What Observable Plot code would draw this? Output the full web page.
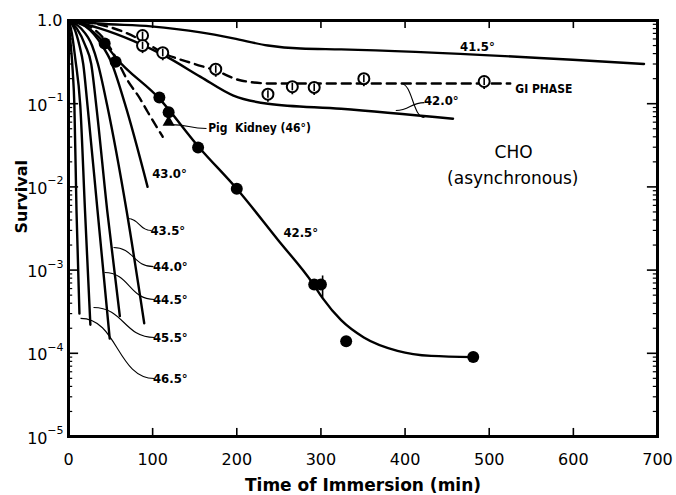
<!DOCTYPE html>
<html><head><meta charset="utf-8">
<script src="https://cdn.jsdelivr.net/npm/d3@7"></script>
<script src="https://cdn.jsdelivr.net/npm/@observablehq/plot@0.6"></script>
<style>body{margin:0;background:#fff} svg{display:block}</style>
</head><body><div id="chart"></div>
<script>
// ---- data (time in min, survival fraction) ----
const c415 = [[0,1],[35,0.92],[98,0.85],[157,0.72],[196,0.61],[237,0.5],[276,0.46],[324,0.45],[684,0.30]];
const c420 = [[0,1],[38,0.8],[77,0.57],[118,0.36],[157,0.21],[196,0.125],[237,0.1],[324,0.087],[457,0.066]];
const cG1  = [[0,1],[46,0.85],[64,0.74],[88,0.57],[112,0.41],[150,0.3],[175,0.25],[205,0.19],[240,0.175],[350,0.175],[525,0.175]];
const c425 = [[0,1],[15,0.92],[30,0.72],[43,0.53],[56,0.36],[108,0.115],[155,0.03],[200,0.0095],[249,2.3e-3],[290,7e-4],[302,4.6e-4],[324,2.5e-4],[351,1.55e-4],[391,1.07e-4],[431,9.3e-5],[481,9e-5]];
const cPig = [[0,1],[20,0.9],[45,0.55],[58,0.33],[69,0.2],[85,0.115],[94,0.08],[112,0.04]];
const c430 = [[0,1],[20,0.85],[40,0.5],[50,0.33],[67,0.1],[94,0.01]];
const c435 = [[0,1],[15,0.8],[28,0.5],[35,0.3],[46,0.095],[69,5.2e-3],[90,2.3e-4]];
const c440 = [[0,1],[10,0.8],[20,0.5],[27,0.3],[33,0.095],[46,5.2e-3],[61,2.8e-4]];
const c445 = [[0,1],[7,0.8],[13,0.5],[17.5,0.3],[22.6,0.095],[34.5,5.2e-3],[49,1.5e-4]];
const c455 = [[0,1],[4,0.7],[8,0.35],[14,0.095],[19.6,5.2e-3],[26,2.2e-4]];
const c465 = [[0,1],[2,0.6],[5,0.25],[7,0.095],[9.5,5.2e-3],[13,3e-4]];

const solidSeries = {"41.5":c415,"42.0":c420,"42.5":c425,"43.0":c430,"43.5":c435,"44.0":c440,"44.5":c445,"45.5":c455,"46.5":c465};
const dashedSeries = {"G1":cG1,"Pig":cPig};

const pts425 = [[43,0.53],[56,0.32],[108,0.119],[119,0.079],[154,0.0297],[200,0.0095],[292,6.7e-4],[300,6.7e-4],[330,1.4e-4],[481,9e-5]];
const ptsPig = [[119,0.06]];
const ptsG1 = [[88,0.66],[88,0.50],[112,0.41],[175,0.26],[237,0.13],[266,0.16],[292,0.157],[351,0.20],[494,0.185]];
const errBars = [[302,4.6e-4,8.5e-4]];

const xTicks = [0,100,200,300,400,500,600,700];
const yTicks = [1,1e-1,1e-2,1e-3,1e-4,1e-5];
const yPowTicks = [1e-1,1e-2,1e-3,1e-4,1e-5];
const yMinor = [];
for (const p of [1e-5,1e-4,1e-3,1e-2,1e-1]) for (let k=2;k<=9;k++) yMinor.push(p*k);

const labels = [
  {text:"41.5°", t:486, s:0.487, anchor:"middle"},
  {text:"GI PHASE", t:531, s:0.148, anchor:"start"},
  {text:"42.0°", t:443, s:0.109, anchor:"middle"},
  {text:"Pig  Kidney (46°)", t:166, s:0.0503, anchor:"start"},
  {text:"43.0°", t:120, s:0.0145, anchor:"middle"},
  {text:"43.5°", t:118, s:2.99e-3, anchor:"middle"},
  {text:"42.5°", t:276, s:2.83e-3, anchor:"middle"},
  {text:"44.0°", t:121, s:1.1e-3, anchor:"middle"},
  {text:"44.5°", t:121, s:4.43e-4, anchor:"middle"},
  {text:"45.5°", t:121, s:1.55e-4, anchor:"middle"},
  {text:"46.5°", t:121, s:4.98e-5, anchor:"middle"}
];
const leaders = [
  [98.6,2.99e-3,70,4.17e-3],
  [101,1.1e-3,53.5,1.87e-3],
  [102,4.43e-4,42.8,9.35e-4],
  [102,1.55e-4,29.7,3.55e-4],
  [102,4.98e-5,14.3,2.63e-4],
  [164,0.0504,122,0.056],
  [423,0.0683,395,0.175],
  [423,0.103,389,0.0828]
];
const cellTitle = ["CHO","(asynchronous)"];
const cellPos = [[529,0.0259],[528,0.0126]];

// ---- tables ----
const toRows = (obj) => Object.entries(obj).flatMap(([k,arr]) => arr.map(([t,s]) => ({series:k,t,s})));
const solidRows = toRows(solidSeries);
const dashedRows = toRows(dashedSeries);
const expText = d => String(Math.round(Math.log10(d))).replace("-", "−");

const chart = Plot.plot({
  width: 676, height: 495,
  marginLeft: 68, marginRight: 19, marginTop: 20, marginBottom: 59,
  x: {domain:[0,700], axis:null},
  y: {type:"log", domain:[1e-5,1], axis:null},
  style: {fontFamily:"DejaVu Sans, sans-serif", background:"white", color:"black"},
  marks: [
    // ticks
    Plot.ruleY(yMinor, {y:d=>d, x1:0, x2:5, strokeWidth:1.2}),
    Plot.ruleY(yTicks, {y:d=>d, x1:0, x2:12, strokeWidth:1.6}),
    Plot.ruleY(yMinor, {y:d=>d, x1:695, x2:700, strokeWidth:1.2}),
    Plot.ruleY(yTicks, {y:d=>d, x1:688, x2:700, strokeWidth:1.6}),
    Plot.ruleX(xTicks, {x:d=>d, y1:1e-5, y2:1.25e-5, strokeWidth:1.6}),
    Plot.ruleX(xTicks, {x:d=>d, y1:1, y2:0.8, strokeWidth:1.6}),
    Plot.frame({strokeWidth:3}),
    Plot.axisX(xTicks, {tickSize:0, tickPadding:17, fontSize:16, label:null}),
    // y tick labels: "1.0" and 10 with superscript exponent
    Plot.text([1], {x:0, y:d=>d, text:()=>"1.0", dx:-6, textAnchor:"end", fontSize:16}),
    Plot.text(yPowTicks, {x:0, y:d=>d, text:()=>"10", dx:-21, dy:2, textAnchor:"end", fontSize:16}),
    Plot.text(yPowTicks, {x:0, y:d=>d, text:expText, dx:-5, dy:-6, textAnchor:"end", fontSize:11}),
    Plot.text(["Time of Immersion (min)"], {frameAnchor:"bottom", dy:49, lineAnchor:"middle", fontSize:17, fontWeight:"bold"}),
    Plot.text(["Survival"], {frameAnchor:"left", dx:-47, dy:5, rotate:-90, fontSize:16, fontWeight:"bold"}),
    // curves
    Plot.line(solidRows, {x:"t", y:"s", z:"series", curve:"monotone-x", stroke:"black", strokeWidth:2.4}),
    Plot.line(dashedRows, {x:"t", y:"s", z:"series", curve:"monotone-x", stroke:"black", strokeWidth:2.4, strokeDasharray:"9,6"}),
    // leaders
    Plot.link(leaders, {x1:d=>d[0], y1:d=>d[1], x2:d=>d[2], y2:d=>d[3], curve:"bump-x", stroke:"black", strokeWidth:1.1}),
    // points
    Plot.ruleX(ptsG1, {x:d=>d[0], y1:d=>d[1]/1.25, y2:d=>d[1]*1.12, strokeWidth:1.8}),
    Plot.dot(ptsG1, {x:d=>d[0], y:d=>d[1], r:5.5, fill:"white", stroke:"black", strokeWidth:2}),
    Plot.ruleX(ptsG1, {x:d=>d[0], y1:d=>d[1]/1.12, y2:d=>d[1]*1.1, strokeWidth:1.6}),
    Plot.ruleX(errBars, {x:d=>d[0], y1:d=>d[1], y2:d=>d[2], strokeWidth:1.6}),
    Plot.dot(pts425, {x:d=>d[0], y:d=>d[1], r:6, fill:"black"}),
    Plot.dot(ptsPig, {x:d=>d[0], y:d=>d[1], r:4.5, fill:"black", symbol:"triangle"}),
    // labels
    Plot.text(labels, {x:"t", y:"s", text:"text", textAnchor:"start", filter:d=>d.anchor==="start", fontSize:12, fontWeight:"bold", fontStretch:"condensed", fontFamily:"DejaVu Sans Condensed, DejaVu Sans"}),
    Plot.text(labels, {x:"t", y:"s", text:"text", textAnchor:"middle", filter:d=>d.anchor==="middle", fontSize:13, fontWeight:"bold", fontStretch:"condensed", fontFamily:"DejaVu Sans Condensed, DejaVu Sans"}),
    Plot.text(cellTitle, {x:(d,i)=>cellPos[i][0], y:(d,i)=>cellPos[i][1], text:d=>d, fontSize:17})
  ]
});
document.getElementById("chart").appendChild(chart);
</script></body></html>
